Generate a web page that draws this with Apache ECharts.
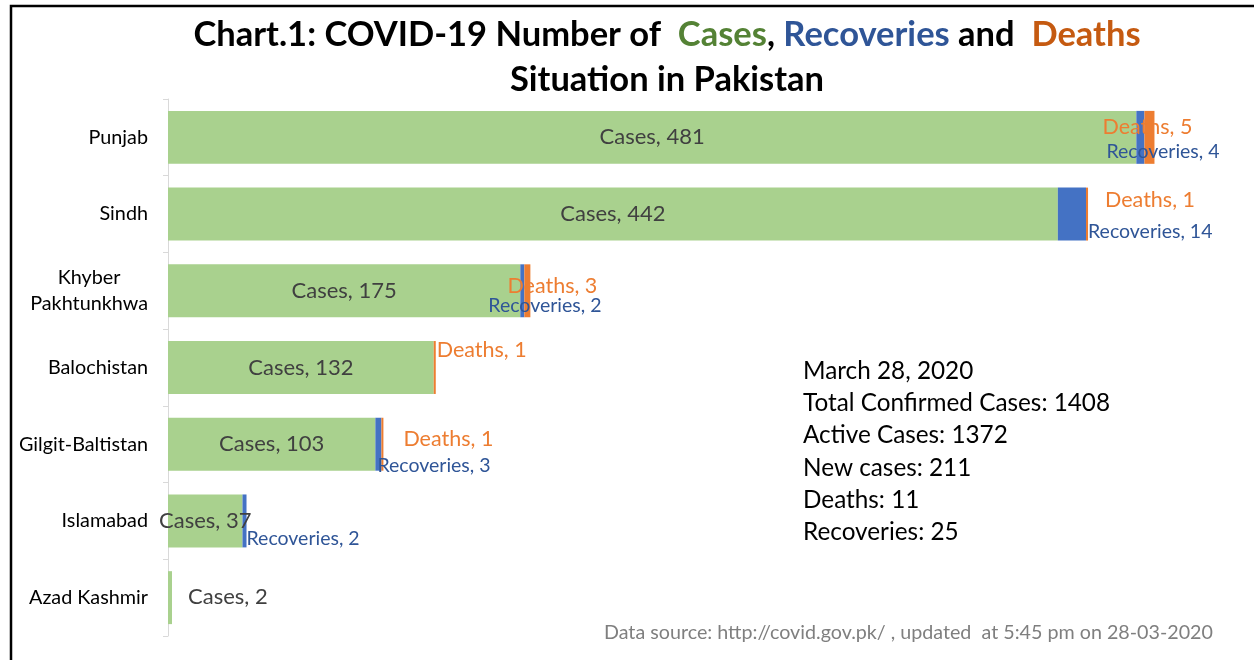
<!DOCTYPE html>
<html>
<head>
<meta charset="utf-8">
<script src="https://cdn.jsdelivr.net/npm/echarts@6/dist/echarts.min.js"></script>
<style>
html,body{margin:0;padding:0;background:#fff;}
#chart{width:1254px;height:660px;}
</style>
</head>
<body>
<div id="chart"></div>
<script>
// ---- data ----
const categories = ['Punjab', 'Sindh', 'Khyber\nPakhtunkhwa', 'Balochistan', 'Gilgit-Baltistan', 'Islamabad', 'Azad Kashmir'];
const cases = [481, 442, 175, 132, 103, 37, 2];
const recoveries = [4, 14, 2, 0, 3, 2, 0];
const deaths = [5, 1, 3, 1, 1, 0, 0];
const infoLines = ['March 28, 2020', 'Total Confirmed Cases: 1408', 'Active Cases: 1372', 'New cases: 211', 'Deaths: 11', 'Recoveries: 25'];
const sourceText = 'Data source: http://covid.gov.pk/ , updated  at 5:45 pm on 28-03-2020';

// ---- label placement (style only) ----
const casesLabelOffset = [null, null, null, null, null, null, [16, -1]];
const recLabelOffset = [[-38, 14.5], [2, 17.5], [-36, 15], null, [-4, 22], [0, 17.5], null];
const deathLabelOffset = [[-52, -10], [17, -14.5], [-23, -4.5], [1, -17.5], [20, -5.5], null, null];

const FONT = 'Lato';
const chart = echarts.init(document.getElementById('chart'), null, {renderer: 'canvas'});

function buildData(values, offsets, name) {
  return values.map((v, i) => {
    const item = {value: v};
    if (name === 'Cases') {
      if (offsets[i]) item.label = {position: 'right', distance: 0, offset: offsets[i]};
    } else {
      if (v === 0 || !offsets[i]) item.label = {show: false};
      else item.label = {offset: offsets[i]};
    }
    return item;
  });
}

const option = {
  backgroundColor: '#ffffff',
  animation: false,
  grid: {left: 168, right: 19, top: 99, bottom: 24, containLabel: false},
  xAxis: {type: 'value', min: 0, max: 530, show: false},
  yAxis: {
    type: 'category',
    data: categories,
    inverse: true,
    axisLine: {show: true, lineStyle: {color: '#d9d9d9', width: 1}},
    axisTick: {show: true, length: 5, lineStyle: {color: '#d9d9d9'}},
    axisLabel: {
      margin: 20,
      fontFamily: FONT,
      fontSize: 19.8,
      color: '#000000',
      lineHeight: 26,
      formatter: function (v) {
        return v.indexOf('\n') >= 0 ? v.split('\n').map(s => '{c|' + s + '}').join('\n') : v;
      },
      rich: {c: {align: 'center', fontFamily: FONT, fontSize: 19.8, color: '#000000', lineHeight: 26}}
    },
    splitLine: {show: false}
  },
  series: [
    {
      name: 'Cases', type: 'bar', stack: 'all', barCategoryGap: '31%',
      itemStyle: {color: '#a9d18e'},
      label: {show: true, position: 'inside', fontFamily: FONT, fontSize: 22, color: '#404040',
        formatter: p => 'Cases, ' + p.value},
      data: buildData(cases, casesLabelOffset, 'Cases')
    },
    {
      name: 'Recoveries', type: 'bar', stack: 'all',
      itemStyle: {color: '#4472c4'},
      label: {show: true, position: 'right', distance: 0, align: 'left', fontFamily: FONT, fontSize: 19.5, color: '#2f5597',
        formatter: p => 'Recoveries, ' + p.value},
      data: buildData(recoveries, recLabelOffset, 'Recoveries')
    },
    {
      name: 'Deaths', type: 'bar', stack: 'all',
      itemStyle: {color: '#ed7d31'},
      label: {show: true, position: 'right', distance: 0, align: 'left', fontFamily: FONT, fontSize: 21.5, color: '#ed7d31',
        formatter: p => 'Deaths, ' + p.value},
      data: buildData(deaths, deathLabelOffset, 'Deaths')
    }
  ],
  graphic: [
    {type: 'polyline', shape: {points: [[11, 660], [11, 6], [1254, 6]]}, style: {stroke: '#000', lineWidth: 2.5, fill: null}, silent: true},
    {
      type: 'text', x: 667, y: 12,
      style: {
        text: '{b|Chart.1: COVID-19 Number of  }{g|Cases}{b|, }{u|Recoveries}{b| and  }{o|Deaths}\n{b|Situation in Pakistan}',
        align: 'center', verticalAlign: 'top',
        rich: {
          b: {fontFamily: FONT, fontWeight: 'bold', fontSize: 34.5, fill: '#000', lineHeight: 45},
          g: {fontFamily: FONT, fontWeight: 'bold', fontSize: 34.5, fill: '#548235', lineHeight: 45},
          u: {fontFamily: FONT, fontWeight: 'bold', fontSize: 34.5, fill: '#2f5597', lineHeight: 45},
          o: {fontFamily: FONT, fontWeight: 'bold', fontSize: 34.5, fill: '#c55a11', lineHeight: 45}
        }
      }
    },
    {
      type: 'text', x: 803, y: 355,
      style: {text: infoLines.join('\n'), fontFamily: FONT, fontSize: 24.3, lineHeight: 32.2, fill: '#000', align: 'left', verticalAlign: 'top'}
    },
    {
      type: 'text', x: 604, y: 633,
      style: {text: sourceText, fontFamily: FONT, fontSize: 19.7, fill: '#7f7f7f', align: 'left', verticalAlign: 'middle'}
    }
  ]
};
chart.setOption(option);
</script>
</body>
</html>
